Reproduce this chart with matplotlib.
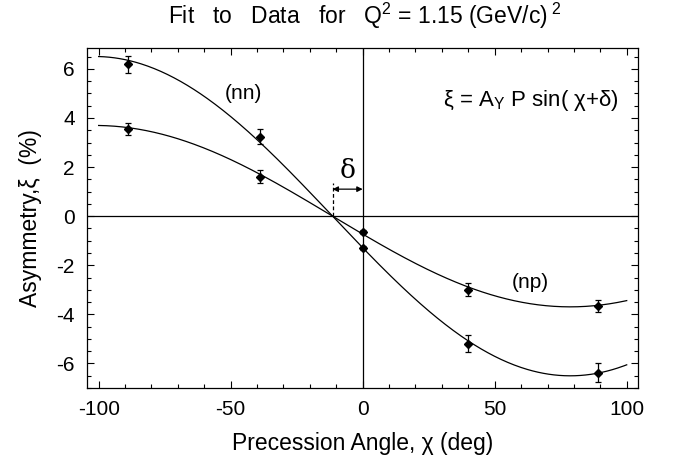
import numpy as np
import matplotlib
matplotlib.use("Agg")
import matplotlib.pyplot as plt

plt.rcParams['font.family'] = ['Liberation Sans', 'DejaVu Sans']
plt.rcParams['mathtext.fontset'] = 'custom'
plt.rcParams['mathtext.rm'] = 'Liberation Sans'
plt.rcParams['mathtext.it'] = 'Liberation Sans'
plt.rcParams['axes.unicode_minus'] = False

# data
chi = [-89, -39, 0, 40, 89]
xi_nn = [6.18, 3.23, -1.3, -5.2, -6.37]
err_nn = [0.33, 0.30, 0.08, 0.34, 0.37]
xi_np = [3.55, 1.6, -0.66, -3.0, -3.67]
err_np = [0.24, 0.26, 0.08, 0.27, 0.24]

xt = [-100, -50, 0, 50, 100]
yt = [-6, -4, -2, 0, 2, 4, 6]

# joint fit  xi = A sin(chi + delta), common delta
x = np.radians(np.array(chi, float))
best = None
for d in np.radians(np.arange(0, 30, 0.05)):
    s = np.sin(x + d)
    res = 0
    amps = []
    for y in (xi_nn, xi_np):
        y = np.array(y)
        a = np.sum(s * y) / np.sum(s * s)
        amps.append(a)
        res += np.sum((y - a * s) ** 2)
    if best is None or res < best[0]:
        best = (res, d, amps)
_, delta, (a_nn, a_np) = best

xx = np.linspace(-100, 100, 400)
fit_nn = a_nn * np.sin(np.radians(xx) + delta)
fit_np = a_np * np.sin(np.radians(xx) + delta)

fig = plt.figure(figsize=(6.73, 4.66), dpi=100)
ax = fig.add_axes([0.1297, 0.1674, 0.818, 0.7296])

ax.plot(xx, fit_nn, color='k', lw=0.9)
ax.plot(xx, fit_np, color='k', lw=0.9)
ax.errorbar(chi, xi_nn, yerr=err_nn, fmt='D', color='k', ms=4, capsize=2.5, elinewidth=0.9, capthick=0.9)
ax.errorbar(chi, xi_np, yerr=err_np, fmt='D', color='k', ms=4, capsize=2.5, elinewidth=0.9, capthick=0.9)

ax.axhline(0, color='k', lw=0.9)
ax.axvline(0, color='k', lw=0.9)

# delta marker
d0 = -np.degrees(delta)
ax.plot([d0, d0], [0, 1.35], color='k', lw=0.9, ls=(0, (3, 2)))
ax.annotate('', xy=(d0, 1.1), xytext=(0, 1.1),
            arrowprops=dict(arrowstyle='<|-|>', color='k', lw=0.9, mutation_scale=8, shrinkA=0, shrinkB=0))
ax.text(d0 / 2, 1.35, 'δ', fontsize=19, ha='center', va='bottom', family=['DejaVu Serif'])

ax.text(-45, 5.0, '(nn)', fontsize=15, ha='center', va='center')
ax.text(63.5, -2.7, '(np)', fontsize=15, ha='center', va='center')
ax.text(97, 4.7, r'ξ = A$_{\mathregular{Y}}$ P sin( χ+δ)', fontsize=16, ha='right', va='center')

ax.set_xlim(-104.3, 104.2)
ax.set_ylim(-7.0, 6.85)
ax.set_xticks(xt)
ax.set_yticks(yt)
ax.set_xticks(np.arange(-100, 101, 10), minor=True)
ax.set_yticks(np.arange(-7, 7, 0.5), minor=True)
ax.tick_params(which='both', direction='in', top=True, right=True, labelsize=15, width=0.8)
ax.tick_params(which='major', length=5, pad=9)
ax.tick_params(which='minor', length=3)
for sp in ax.spines.values():
    sp.set_linewidth(0.9)

ax.set_xlabel('Precession Angle, χ (deg)', fontsize=16.5, labelpad=9)
ax.set_ylabel('Asymmetry,ξ  (%)', fontsize=16.5, labelpad=10)
fig.text(0.542, 0.966,
         r'Fit   to   Data   for   Q$^{\mathregular{2}}$ = 1.15 (GeV/c)$^{\mathregular{\ 2}}$',
         fontsize=16.5, ha='center', va='center')

plt.savefig('out.png', dpi=100)
